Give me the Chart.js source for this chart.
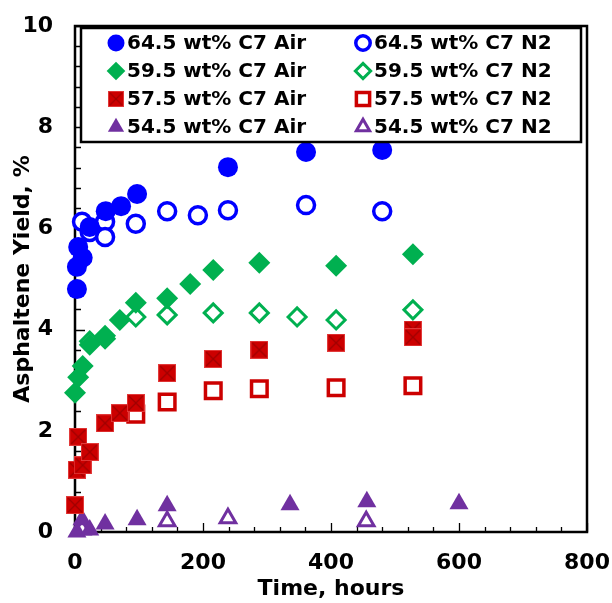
<!DOCTYPE html>
<html>
<head>
<meta charset="utf-8">
<script src="https://cdn.jsdelivr.net/npm/chart.js"></script>
<style>
  body { margin: 0; background: #fff; }
</style>
</head>
<body>
<canvas id="chart" width="612" height="603"></canvas>
<script>
// values (hours, asphaltene yield %)
const c645AirHours = [3, 3, 12, 5, 23, 48, 72, 97, 239, 361, 480];
const c645AirYield = [4.80, 5.24, 5.42, 5.63, 6.03, 6.34, 6.44, 6.68, 7.21, 7.51, 7.55];
const c645N2Hours = [11, 23, 47, 47, 95, 144, 192, 239, 361, 480];
const c645N2Yield = [6.13, 5.93, 6.13, 5.83, 6.09, 6.34, 6.26, 6.36, 6.46, 6.34];

const c595AirHours = [0, 5, 12, 23, 47, 70, 95, 144, 180, 216, 288, 408, 528];
const c595AirYield = [2.75, 3.06, 3.28, 3.70, 3.88, 4.19, 4.53, 4.62, 4.90, 5.18, 5.32, 5.26, 5.49];
const c595N2Hours = [23, 47, 95, 144, 216, 288, 347, 408, 528];
const c595N2Yield = [3.77, 3.82, 4.25, 4.29, 4.33, 4.33, 4.25, 4.19, 4.39];

const c575AirHours = [0, 3, 12, 5, 23, 47, 70, 95, 144, 216, 288, 408, 528, 528];
const c575AirYield = [0.53, 1.23, 1.32, 1.88, 1.58, 2.15, 2.35, 2.55, 3.14, 3.42, 3.60, 3.74, 4.00, 3.85];
const c575N2Hours = [95, 144, 216, 288, 408, 528];
const c575N2Yield = [2.33, 2.57, 2.79, 2.83, 2.85, 2.89];

const c545AirHours = [3, 11, 23, 47, 97, 144, 336, 456, 600];
const c545AirYield = [0.0, 0.24, 0.04, 0.16, 0.24, 0.52, 0.54, 0.60, 0.56];
const c545N2Hours = [11, 144, 239, 455];
const c545N2Yield = [0.05, 0.21, 0.27, 0.21];

const xTickLabels = ['0', '200', '400', '600', '800'];
const yTickLabels = ['0', '2', '4', '6', '8', '10'];

const FONT = "'DejaVu Sans', sans-serif";
const BLUE = '#0000ff', GREEN = '#00b050', RED = '#cc0000', PURPLE = '#7030a0';

// filled red square with an X inside
function crossSquare(size) {
  const c = document.createElement('canvas');
  c.width = size; c.height = size;
  const g = c.getContext('2d');
  g.fillStyle = RED;
  g.fillRect(0, 0, size, size);
  g.strokeStyle = '#e23a3a';
  g.lineWidth = 1;
  g.strokeRect(0.5, 0.5, size - 1, size - 1);
  g.strokeStyle = '#a00000';
  g.lineWidth = 1.3;
  g.beginPath();
  g.moveTo(2, 2); g.lineTo(size - 2, size - 2);
  g.moveTo(size - 2, 2); g.lineTo(2, size - 2);
  g.stroke();
  return c;
}
const redSquare = crossSquare(18);

function pts(xs, ys) {
  return xs.map((x, i) => ({x: x, y: ys[i]}));
}

function series(label, xs, ys, style) {
  return Object.assign({
    label: label,
    data: pts(xs, ys),
    showLine: false,
    clip: false
  }, style);
}

const datasets = [
  series('64.5 wt% C7 Air', c645AirHours, c645AirYield,
    {pointStyle: 'circle', pointRadius: 10, backgroundColor: BLUE, borderColor: BLUE, borderWidth: 0}),
  series('64.5 wt% C7 N2', c645N2Hours, c645N2Yield,
    {pointStyle: 'circle', pointRadius: 8.5, backgroundColor: '#fff', borderColor: BLUE, borderWidth: 3.5}),
  series('59.5 wt% C7 Air', c595AirHours, c595AirYield,
    {pointStyle: 'rectRot', pointRadius: 11, backgroundColor: GREEN, borderColor: GREEN, borderWidth: 0}),
  series('59.5 wt% C7 N2', c595N2Hours, c595N2Yield,
    {pointStyle: 'rectRot', pointRadius: 9, backgroundColor: '#fff', borderColor: GREEN, borderWidth: 3}),
  series('57.5 wt% C7 Air', c575AirHours, c575AirYield,
    {pointStyle: redSquare, pointRadius: 9, backgroundColor: RED, borderColor: RED, borderWidth: 0}),
  series('57.5 wt% C7 N2', c575N2Hours, c575N2Yield,
    {pointStyle: 'rect', pointRadius: 11, backgroundColor: '#fff', borderColor: RED, borderWidth: 3.5}),
  series('54.5 wt% C7 Air', c545AirHours, c545AirYield,
    {pointStyle: 'triangle', pointRadius: 11, backgroundColor: PURPLE, borderColor: PURPLE, borderWidth: 0}),
  series('54.5 wt% C7 N2', c545N2Hours, c545N2Yield,
    {pointStyle: 'triangle', pointRadius: 9, backgroundColor: '#fff', borderColor: PURPLE, borderWidth: 3})
];

function isMajor(v, step) {
  const r = v / step;
  return Math.abs(r - Math.round(r)) < 1e-6;
}

// frame + inward tick marks
const framePlugin = {
  id: 'frame',
  beforeDatasetsDraw(chart) {
    const {ctx, chartArea: a, scales} = chart;
    ctx.save();
    ctx.strokeStyle = '#000';
    ctx.lineWidth = 1.3;
    ctx.beginPath();
    scales.x.ticks.forEach(t => {
      const px = Math.round(scales.x.getPixelForValue(t.value)) + 0.5;
      const len = isMajor(t.value, 200) ? 9 : 5;
      ctx.moveTo(px, a.bottom); ctx.lineTo(px, a.bottom - len);
    });
    scales.y.ticks.forEach(t => {
      const py = Math.round(scales.y.getPixelForValue(t.value)) + 0.5;
      const len = isMajor(t.value, 2) ? 10 : 6;
      ctx.moveTo(a.left, py); ctx.lineTo(a.left + len, py);
    });
    ctx.stroke();
    ctx.lineWidth = 2.5;
    ctx.strokeRect(a.left, a.top, a.right - a.left, a.bottom - a.top);
    ctx.restore();
  }
};

// boxed two-column legend inside the plot
const legendPlugin = {
  id: 'boxLegend',
  afterDraw(chart) {
    const {ctx} = chart;
    const box = {x: 81, y: 28, w: 500, h: 114};
    ctx.save();
    ctx.fillStyle = '#fff';
    ctx.fillRect(box.x, box.y, box.w, box.h);
    ctx.strokeStyle = '#000';
    ctx.lineWidth = 2.5;
    ctx.strokeRect(box.x, box.y, box.w, box.h);
    ctx.font = 'bold 20px ' + FONT;
    ctx.textBaseline = 'middle';
    const colX = [116, 363];
    chart.data.datasets.forEach((ds, i) => {
      const col = i % 2, row = Math.floor(i / 2);
      const mx = colX[col], my = 43 + row * 28;
      ctx.fillStyle = ds.backgroundColor;
      ctx.strokeStyle = ds.borderColor;
      ctx.lineWidth = ds.borderWidth;
      const r = ds.pointRadius * 0.85;
      if (typeof ds.pointStyle === 'string') {
        Chart.helpers.drawPoint(ctx, {pointStyle: ds.pointStyle, radius: r, rotation: 0, borderWidth: ds.borderWidth}, mx, my);
      } else {
        ctx.drawImage(ds.pointStyle, mx - 8, my - 8, 16, 16);
      }
      ctx.fillStyle = '#000';
      ctx.fillText(ds.label, mx + 11, my + 1);
    });
    ctx.restore();
  }
};

new Chart(document.getElementById('chart'), {
  type: 'scatter',
  data: {datasets: datasets},
  options: {
    responsive: false,
    devicePixelRatio: 1,
    animation: false,
    layout: {padding: {top: 26, right: 25, left: 0, bottom: 0}},
    plugins: {legend: {display: false}, tooltip: {enabled: false}},
    scales: {
      x: {
        type: 'linear', min: 0, max: 800,
        grid: {display: false, drawTicks: false},
        border: {display: false},
        afterFit: s => { s.height = 71; s.paddingLeft = 0; s.paddingRight = 0; },
        ticks: {
          stepSize: 40, autoSkip: false, maxRotation: 0, padding: 18,
          color: '#000', font: {family: FONT, size: 22, weight: 'bold'},
          callback: v => isMajor(v, 200) ? xTickLabels[Math.round(v / 200)] : ''
        },
        title: {display: true, text: 'Time, hours', color: '#000',
          font: {family: FONT, size: 22, weight: 'bold'}, padding: {top: 0, bottom: 1}}
      },
      y: {
        type: 'linear', min: 0, max: 10,
        grid: {display: false, drawTicks: false},
        border: {display: false},
        afterFit: s => { s.width = 75; s.paddingTop = 0; s.paddingBottom = 0; },
        ticks: {
          stepSize: 0.4, autoSkip: false, padding: 22,
          color: '#000', font: {family: FONT, size: 22, weight: 'bold'},
          callback: v => isMajor(v, 2) ? yTickLabels[Math.round(v / 2)] : ''
        },
        title: {display: true, text: 'Asphaltene Yield, %', color: '#000',
          font: {family: FONT, size: 22, weight: 'bold'}, padding: {top: 10, bottom: 0}}
      }
    }
  },
  plugins: [framePlugin, legendPlugin]
});
</script>
</body>
</html>
